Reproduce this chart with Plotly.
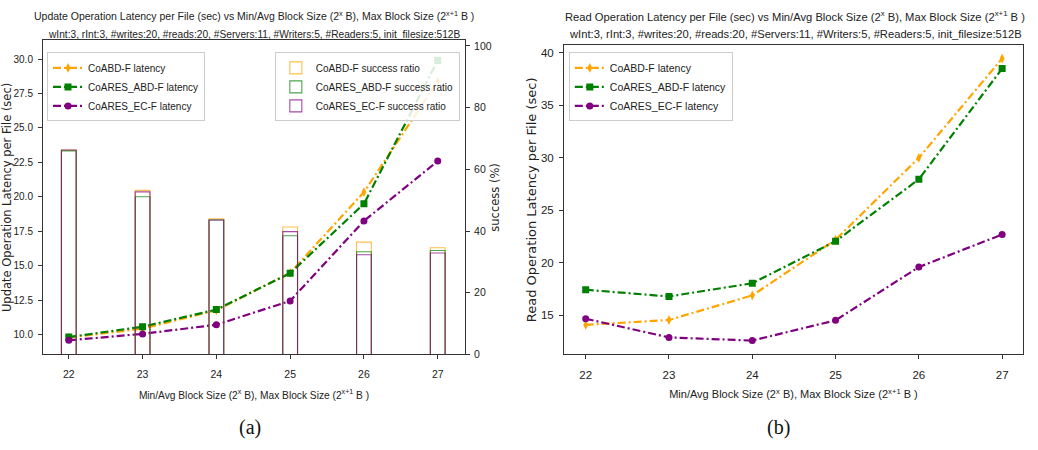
import plotly.graph_objects as go

# ---------------- data ----------------
block_exp = [22, 23, 24, 25, 26, 27]
tick_labels = ["22", "23", "24", "25", "26", "27"]

# (a) update latency (sec)
upd_coabd = [9.8, 10.45, 11.78, 14.5, 20.35, 28.4]
upd_coares_abd = [9.84, 10.59, 11.83, 14.47, 19.5, 29.9]
upd_coares_ec = [9.6, 10.07, 10.73, 12.46, 18.26, 22.6]

# (a) success ratio (%)
succ_coabd = [66.3, 53.2, 44.0, 41.3, 36.4, 34.6]
succ_coares_abd = [66.0, 51.1, 43.6, 38.5, 33.3, 33.7]
succ_coares_ec = [66.3, 52.7, 43.6, 39.8, 32.3, 32.9]

# (b) read latency (sec)
rd_coabd = [14.09, 14.56, 16.9, 22.2, 30.0, 39.46]
rd_coares_abd = [17.44, 16.8, 18.06, 22.06, 27.96, 38.5]
rd_coares_ec = [14.68, 12.9, 12.6, 14.53, 19.6, 22.7]

names = ["CoABD-F", "CoARES_ABD-F", "CoARES_EC-F"]
colors = ["orange", "green", "purple"]
symbols = ["diamond-tall", "square", "circle"]

SANS = "Liberation Sans, Arial, sans-serif"
WIDE = "DejaVu Sans, sans-serif"
DASH = "8px,3px,2px,3px"
TXT = "#222"

fig = go.Figure()

# success bars (a), on secondary axis
for nm, col, vals in zip(names, colors, [succ_coabd, succ_coares_abd, succ_coares_ec]):
    fig.add_trace(go.Bar(
        x=block_exp, y=vals, width=0.2, name=nm + " success ratio",
        marker=dict(color="rgba(0,0,0,0)", line=dict(color=col, width=1.1)),
        xaxis="x", yaxis="y2", legend="legend2", opacity=0.7,
    ))

# update latency lines (a)
for nm, col, sym, vals in zip(names, colors, symbols, [upd_coabd, upd_coares_abd, upd_coares_ec]):
    fig.add_trace(go.Scatter(
        x=block_exp, y=vals, name=nm + " latency", mode="lines+markers",
        line=dict(color=col, width=2.2, dash=DASH),
        marker=dict(symbol=sym, size=7, color=col),
        xaxis="x", yaxis="y", legend="legend",
    ))

# read latency lines (b)
for nm, col, sym, vals in zip(names, colors, symbols, [rd_coabd, rd_coares_abd, rd_coares_ec]):
    fig.add_trace(go.Scatter(
        x=block_exp, y=vals, name=nm + " latency", mode="lines+markers",
        line=dict(color=col, width=2.2, dash=DASH),
        marker=dict(symbol=sym, size=7, color=col),
        xaxis="x2", yaxis="y3", legend="legend3",
    ))


def axis_common(size, standoff=3):
    return dict(
        showline=True, linecolor="#333", linewidth=1, mirror=True,
        ticks="outside", ticklen=4, tickcolor="#333", showgrid=False, zeroline=False,
        ticklabelstandoff=standoff,
        tickfont=dict(family=SANS, size=size, color=TXT),
    )


xt = "Min/Avg Block Size (2<sup>x</sup> B), Max Block Size (2<sup>x+1</sup> B )"


def legend_style(size):
    return dict(bgcolor="rgba(255,255,255,0.85)", bordercolor="#ccc", borderwidth=1,
                font=dict(family=SANS, size=size, color=TXT), itemwidth=30,
                tracegroupgap=0, yanchor="top")


fig.update_layout(
    width=1038, height=450,
    margin=dict(l=0, r=0, t=0, b=0),
    paper_bgcolor="white", plot_bgcolor="white",
    barmode="overlay",
    showlegend=True,
    xaxis=dict(domain=[0.0414, 0.448], range=[21.65, 27.37], anchor="y",
               tickvals=block_exp, ticktext=tick_labels,
               title=dict(text=xt, font=dict(family=SANS, size=10.2, color=TXT), standoff=12),
               **axis_common(10.5, 6)),
    yaxis=dict(domain=[0.2022, 0.911], range=[8.58, 31.35], anchor="x",
               tickvals=[10, 12.5, 15, 17.5, 20, 22.5, 25, 27.5, 30],
               ticktext=["10.0", "12.5", "15.0", "17.5", "20.0", "22.5", "25.0", "27.5", "30.0"],
               title=dict(text="Update Operation Latency per File (sec)",
                          font=dict(family=WIDE, size=11.5, color=TXT), standoff=3),
               **axis_common(10)),
    yaxis2=dict(domain=[0.2022, 0.911], range=[0, 101.8], anchor="x", overlaying="y", side="right",
                tickvals=[0, 20, 40, 60, 80, 100],
                title=dict(text="success (%)", font=dict(family=WIDE, size=11.5, color=TXT), standoff=0),
                showline=True, linecolor="#333", linewidth=1, ticks="outside", ticklen=4,
                ticklabelstandoff=2,
                tickcolor="#333", showgrid=False, zeroline=False,
                tickfont=dict(family=SANS, size=10.5, color=TXT)),
    xaxis2=dict(domain=[0.5434, 0.9855], range=[21.74, 27.25], anchor="y3",
                tickvals=block_exp, ticktext=tick_labels,
                title=dict(text=xt, font=dict(family=SANS, size=11, color=TXT), standoff=10),
                **axis_common(11.5, 6)),
    yaxis3=dict(domain=[0.2022, 0.9], range=[11.28, 40.72], anchor="x2",
                tickvals=[15, 20, 25, 30, 35, 40],
                title=dict(text="Read Operation Latency per File (sec)",
                           font=dict(family=WIDE, size=13, color=TXT), standoff=1),
                **axis_common(11.5)),
    legend=dict(x=0.0453, y=0.884, xanchor="left", **legend_style(10)),
    legend2=dict(x=0.443, y=0.884, xanchor="right", **legend_style(10)),
    legend3=dict(x=0.548, y=0.884, xanchor="left", **legend_style(10.5)),
)

sub = "wInt:3, rInt:3, #writes:20, #reads:20, #Servers:11, #Writers:5, #Readers:5, init_filesize:512B"
annos = [
    (254 / 1038, 1 - 15 / 450, 10.5,
     "Update Operation Latency per File (sec) vs Min/Avg Block Size (2<sup>x</sup> B), Max Block Size (2<sup>x+1</sup> B )"),
    (254 / 1038, 1 - 34 / 450, 10.2, sub),
    (795 / 1038, 1 - 15 / 450, 11.2,
     "Read Operation Latency per File (sec) vs Min/Avg Block Size (2<sup>x</sup> B), Max Block Size (2<sup>x+1</sup> B )"),
    (795 / 1038, 1 - 34 / 450, 11.2, sub),
]
for x, y, s, t in annos:
    fig.add_annotation(x=x, y=y, xref="paper", yref="paper", text=t, showarrow=False,
                       xanchor="center", yanchor="middle",
                       font=dict(family=SANS, size=s, color=TXT))

for x, t in [(250 / 1038, "(a)"), (778 / 1038, "(b)")]:
    fig.add_annotation(x=x, y=1 - 433 / 450, xref="paper", yref="paper", text=t, showarrow=False,
                       xanchor="center", yanchor="middle",
                       font=dict(family="Liberation Serif, DejaVu Serif, serif", size=20, color="#111"))

fig.write_html("out.html")
